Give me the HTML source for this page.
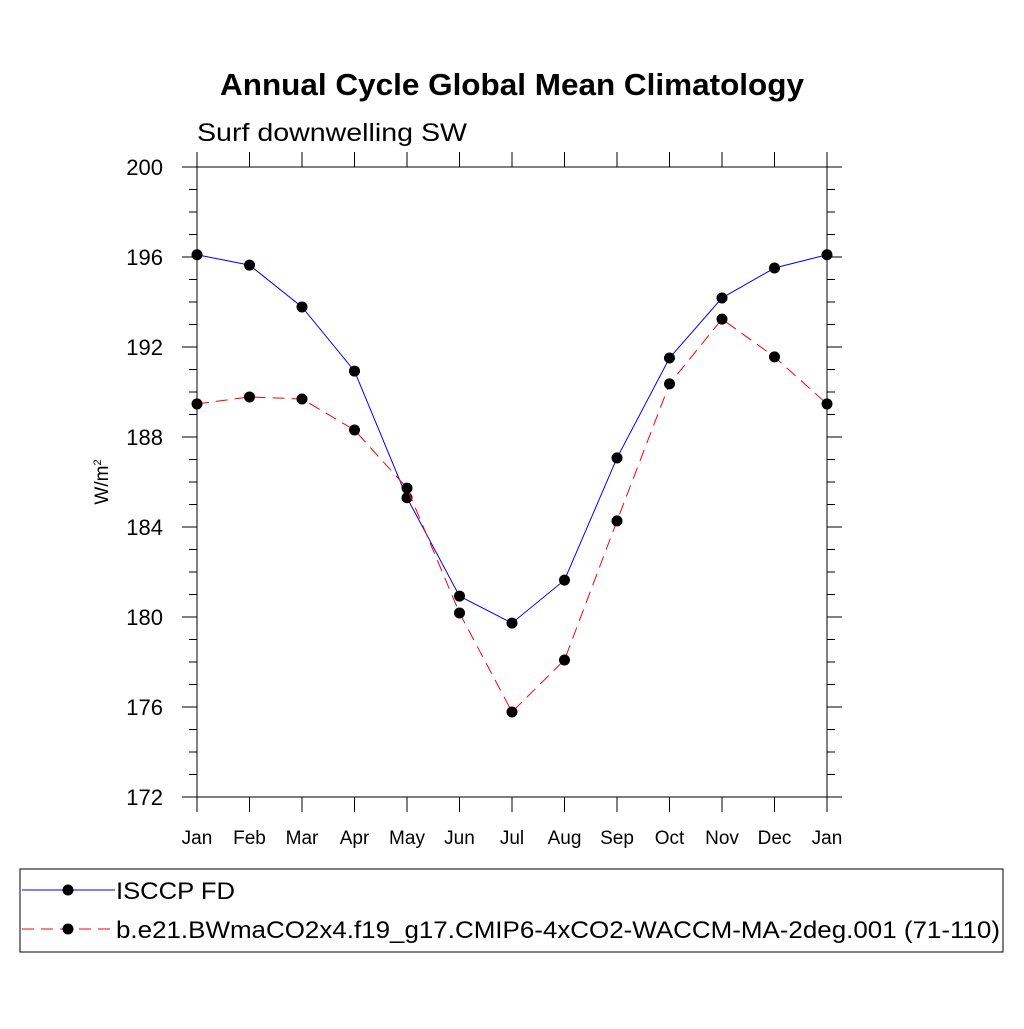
<!DOCTYPE html>
<html><head><meta charset="utf-8"><style>
body{margin:0;background:#fff;}
svg text{font-family:"Liberation Sans",sans-serif;}
</style></head><body>
<svg id="c" width="1024" height="1024" viewBox="0 0 1024 1024" xmlns="http://www.w3.org/2000/svg">
<text x="220" y="95" textLength="584" lengthAdjust="spacingAndGlyphs" font-size="31" font-weight="bold">Annual Cycle Global Mean Climatology</text>
<text x="197" y="141" textLength="270" lengthAdjust="spacingAndGlyphs" font-size="25">Surf downwelling SW</text>
<text transform="translate(108,482) rotate(-90)" text-anchor="middle" font-size="19">W/m<tspan dy="-7" font-size="11">2</tspan></text>
<g id="axes"></g><g id="marks"></g>
<rect x="20" y="869" width="983" height="83" fill="none" stroke="#000" stroke-width="1"/>
<g>
<line x1="22" y1="890" x2="115" y2="890" stroke="#00f" stroke-width="1"/>
<circle cx="68" cy="890" r="5.5" fill="#000"/>
<text x="116" y="899" textLength="119" lengthAdjust="spacingAndGlyphs" font-size="24">ISCCP FD</text></g>
<g>
<line x1="22" y1="929" x2="115" y2="929" stroke="#f00" stroke-width="1" stroke-dasharray="12,7"/>
<circle cx="68" cy="929" r="5.5" fill="#000"/>
<text x="116" y="938" textLength="884" lengthAdjust="spacingAndGlyphs" font-size="24">b.e21.BWmaCO2x4.f19_g17.CMIP6-4xCO2-WACCM-MA-2deg.001 (71-110)</text></g>
</svg>
<script>
const months=["Jan","Feb","Mar","Apr","May","Jun","Jul","Aug","Sep","Oct","Nov","Dec","Jan"];
const yTicks=[172,176,180,184,188,192,196,200];
const obsValues=[196.1,195.64,193.78,190.93,185.3,180.93,179.73,181.64,187.07,191.51,194.18,195.51,196.1];
const modelValues=[189.47,189.78,189.69,188.31,185.73,180.18,175.78,178.09,184.27,190.36,193.24,191.56,189.47];
const X0=197,X1=827,Y0=797,Y1=167,YMIN=172,YMAX=200;
const xs=i=>X0+i*(X1-X0)/(months.length-1);
const ys=v=>Y0-(v-YMIN)/(YMAX-YMIN)*(Y0-Y1);
const NS="http://www.w3.org/2000/svg";
const axes=document.getElementById('axes'),marks=document.getElementById('marks');
function mk(p,t,a){const e=document.createElementNS(NS,t);for(const k in a)e.setAttribute(k,a[k]);p.appendChild(e);return e;}
const frame=mk(axes,'rect',{x:X0,y:Y1,width:X1-X0,height:Y0-Y1,fill:'none',stroke:'#000','stroke-width':1});


for(let v=YMIN;v<=YMAX;v++){
  const y=ys(v),maj=(v-YMIN)%4===0,L=maj?15:8;
  const a=mk(axes,'line',{x1:X0-L,y1:y,x2:X0,y2:y,stroke:'#000'});
  
  
  const b=mk(axes,'line',{x1:X1,y1:y,x2:X1+L,y2:y,stroke:'#000'});
  
  
}
yTicks.forEach(v=>{
  const t=mk(axes,'text',{x:X0-34,y:ys(v)+8,'text-anchor':'end','font-size':22});
  t.textContent=v;
  
  
});
months.forEach((m,i)=>{
  const x=xs(i);
  const a=mk(axes,'line',{x1:x,y1:Y0,x2:x,y2:Y0+15,stroke:'#000'});
  
  
  const b=mk(axes,'line',{x1:x,y1:Y1-15,x2:x,y2:Y1,stroke:'#000'});
  
  
  const t=mk(axes,'text',{x:x,y:844,'text-anchor':'middle','font-size':19});
  t.textContent=m;
  
  
});
function series(vals,color,dash,name){
  const pts=vals.map((v,i)=>xs(i)+','+ys(v)).join(' ');
  const l=mk(marks,'polyline',{points:pts,fill:'none',stroke:color,'stroke-width':1,'stroke-dasharray':dash});
  
  
  vals.forEach((v,i)=>{
    const c=mk(marks,'circle',{cx:xs(i),cy:ys(v),r:5.5,fill:'#000'});
    
    
  });
}
series(obsValues,'#00f','none','isccp');
series(modelValues,'#f00','12,7','model');
</script>
</body></html>
